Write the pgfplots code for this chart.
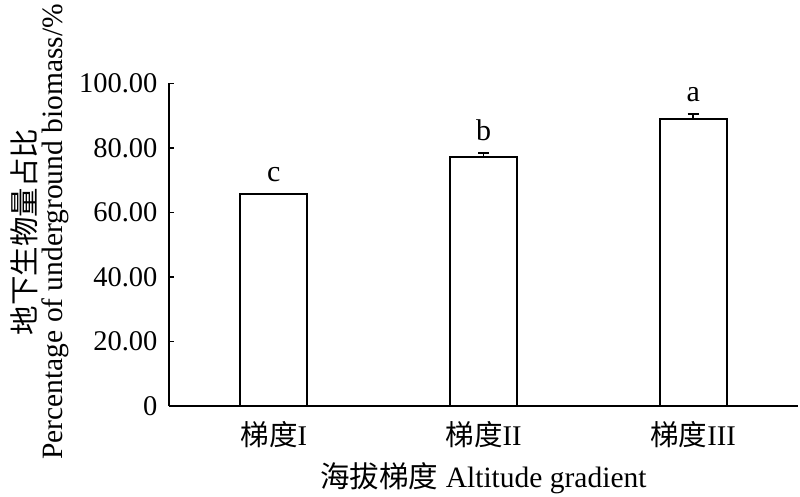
\documentclass[border=0pt]{standalone}
\usepackage{pgfplots}
\pgfplotsset{compat=1.18}
\usepackage{fontspec}
\setmainfont{Liberation Serif}
\newfontfamily\cjk{Noto Sans CJK SC}

\begin{document}
\begin{tikzpicture}
\useasboundingbox (-169bp,-91bp) rectangle (631bp,406bp);
\begin{axis}[
    scale only axis,
    width=629bp, height=322.5bp,
    xmin=-0.5, xmax=2.5,
    ymin=0, ymax=100,
    axis x line*=bottom,
    axis y line*=left,
    axis line style={line width=1.6bp, -},
    xtick={0,1,2},
    xticklabels={{\cjk 梯度}I, {\cjk 梯度}II, {\cjk 梯度}III},
    x tick style={draw=none},
    ytick={0,20,40,60,80,100},
    yticklabels={0,20.00,40.00,60.00,80.00,100.00},
    y tick style={line width=1.4bp, black},
    tick align=inside,
    major tick length=5bp,
    tick label style={font=\fontsize{28.5bp}{30bp}\selectfont},
    xticklabel style={yshift=-12bp},
    yticklabel style={xshift=-8bp},
    xlabel={{\cjk 海拔梯度} Altitude gradient},
    xlabel style={font=\fontsize{29.5bp}{30bp}\selectfont, yshift=-8bp},
    ylabel={{\cjk 地下生物量占比}\\Percentage of underground biomass/\%},
    ylabel style={font=\fontsize{29.5bp}{27bp}\selectfont, align=center,
        at={(axis description cs:-0.205,0.54)}, anchor=center, rotate=0},
    clip=false,
]
\addplot[ybar, bar width=67bp, fill=white, draw=black, line width=1.8bp,
    error bars/.cd, y dir=plus, y explicit,
    error bar style={line width=1.4bp, black},
    error mark options={rotate=90, mark size=5.5bp, line width=1.4bp, black}]
coordinates {
    (0,65.7) +- (0,0.25)
    (1,77.3) +- (0,1.15)
    (2,89.0) +- (0,1.6)
};
\addplot[draw=none, mark=none,
    nodes near coords, point meta=explicit symbolic,
    every node near coord/.style={font=\fontsize{30bp}{30bp}\selectfont, anchor=base, yshift=12bp, inner sep=0pt}]
coordinates {
    (0,65.95) [c]
    (1,78.45) [b]
    (2,90.6) [a]
};
\end{axis}
\end{tikzpicture}
\end{document}
